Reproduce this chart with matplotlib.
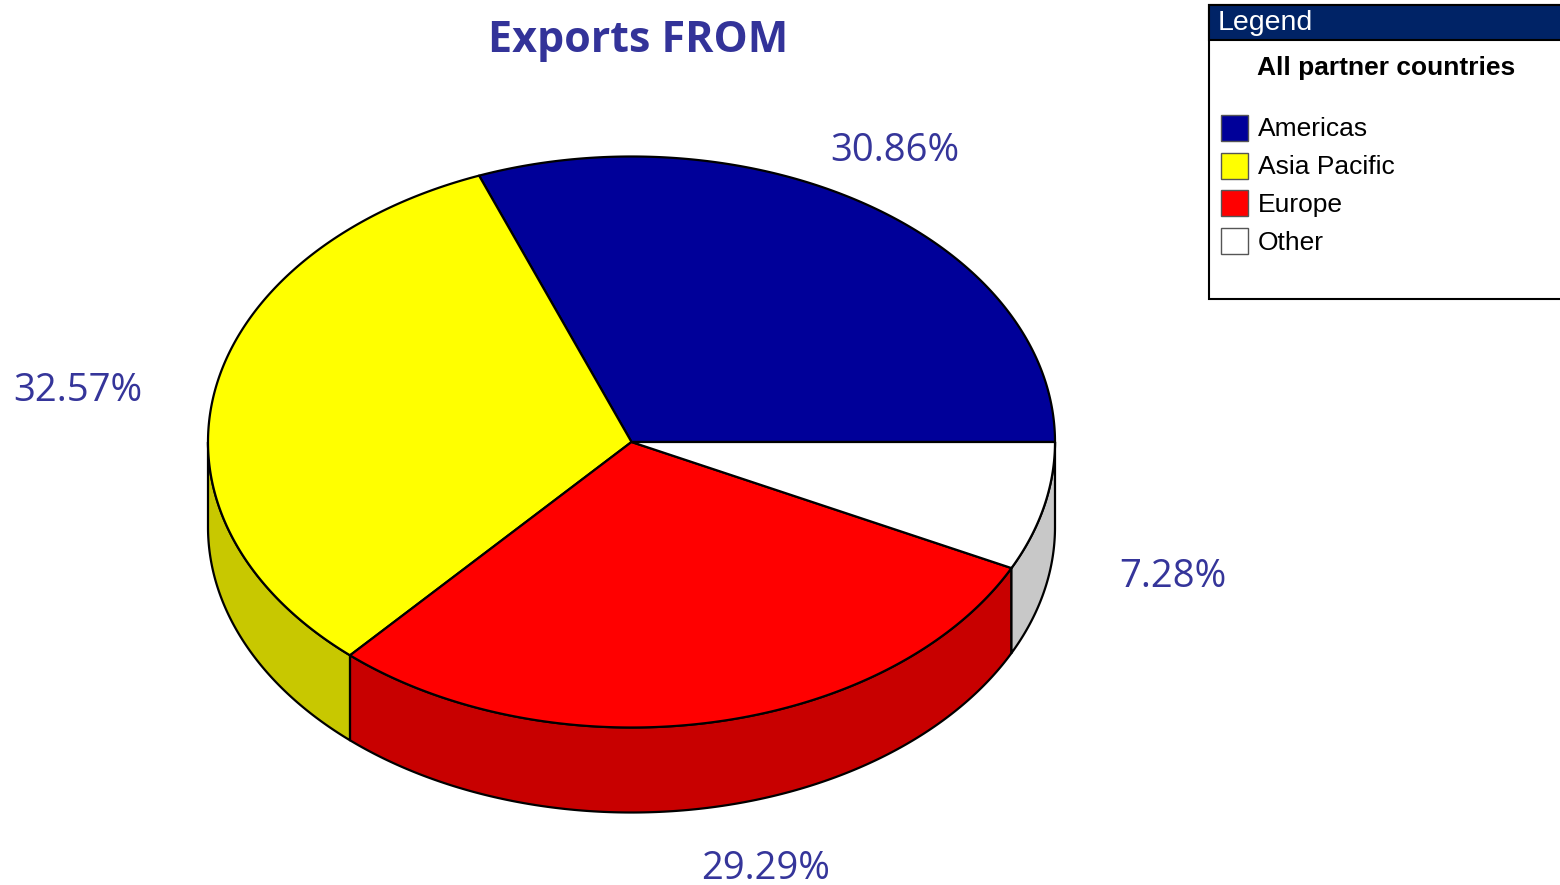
import numpy as np
import matplotlib
matplotlib.use("Agg")
import matplotlib.pyplot as plt
from matplotlib.patches import Polygon, Rectangle

# ---- data ----
categories = ["Americas", "Asia Pacific", "Europe", "Other"]
shares = [30.86, 32.57, 29.29, 7.28]
top_colors = ["#000099", "#FFFF00", "#FF0000", "#FFFFFF"]
side_colors = ["#00006B", "#C8C800", "#C80000", "#C8C8C8"]
title = "Exports FROM"
legend_title = "Legend"
legend_subtitle = "All partner countries"

# ---- layout (pixel space) ----
W, H = 1560, 885
cx, cy, rx, ry, depth = 631.5, 442.0, 423.5, 285.5, 85.0
label_pos = [(895, 151), (78, 391), (766, 869), (1173, 577)]
label_color = "#35359A"

fig = plt.figure(figsize=(W / 100, H / 100), dpi=100)
ax = fig.add_axes([0, 0, 1, 1])
ax.set_xlim(0, W)
ax.set_ylim(H, 0)
ax.axis("off")


def ell(t_deg, dz=0.0):
    t = np.radians(t_deg)
    return cx + rx * np.cos(t), cy - ry * np.sin(t) + dz


total = sum(shares)
bounds = np.concatenate([[0], np.cumsum(shares) / total * 360.0])

# sides (only front half 180..360 visible)
for i in range(len(shares)):
    a0, a1 = bounds[i], bounds[i + 1]
    s0, s1 = max(a0, 180.0), min(a1, 360.0)
    if s1 <= s0:
        continue
    ts = np.linspace(s0, s1, 200)
    top = [ell(t) for t in ts]
    bot = [ell(t, depth) for t in ts[::-1]]
    ax.add_patch(Polygon(top + bot, closed=True, facecolor=side_colors[i],
                         edgecolor="black", linewidth=1.6, joinstyle="round", zorder=1))

# top faces
for i in range(len(shares)):
    a0, a1 = bounds[i], bounds[i + 1]
    ts = np.linspace(a0, a1, 300)
    pts = [(cx, cy)] + [ell(t) for t in ts]
    ax.add_patch(Polygon(pts, closed=True, facecolor=top_colors[i],
                         edgecolor="black", linewidth=1.6, joinstyle="round", zorder=2))

# percent labels
for i, v in enumerate(shares):
    x, y = label_pos[i]
    ax.text(x, y, f"{v:.2f}%", ha="center", va="center", fontsize=27.5,
            family="Open Sans", color=label_color, zorder=5)

# title
ax.text(638, 41, title, ha="center", va="center", fontsize=31, fontweight="bold",
        family="Open Sans", color="#333399")

# legend box
lx0, ly0, lx1, ly1 = 1208.5, 4.5, 1575, 298.5
ax.add_patch(Rectangle((lx0, ly0), lx1 - lx0, ly1 - ly0, facecolor="white",
                       edgecolor="black", linewidth=1.5, zorder=6, clip_on=False))
ax.add_patch(Rectangle((lx0, ly0), lx1 - lx0, 35.5, facecolor="#002366",
                       edgecolor="black", linewidth=1.5, zorder=7, clip_on=False))
ax.text(1218, 23, legend_title, ha="left", va="center", fontsize=20.5,
        family="Liberation Sans", color="white", zorder=8)
ax.text(1386, 68, legend_subtitle, ha="center", va="center", fontsize=19,
        fontweight="bold", family="Liberation Sans", color="black", zorder=8)
for i, name in enumerate(categories):
    y = 128 + i * 37.7
    ax.add_patch(Rectangle((1221, y - 13), 27, 26, facecolor=top_colors[i],
                           edgecolor="#555555", linewidth=1.0, zorder=8))
    ax.text(1258, y + 1.5, name, ha="left", va="center", fontsize=19,
            family="Liberation Sans", color="black", zorder=8)

fig.savefig("out.png", dpi=100)
